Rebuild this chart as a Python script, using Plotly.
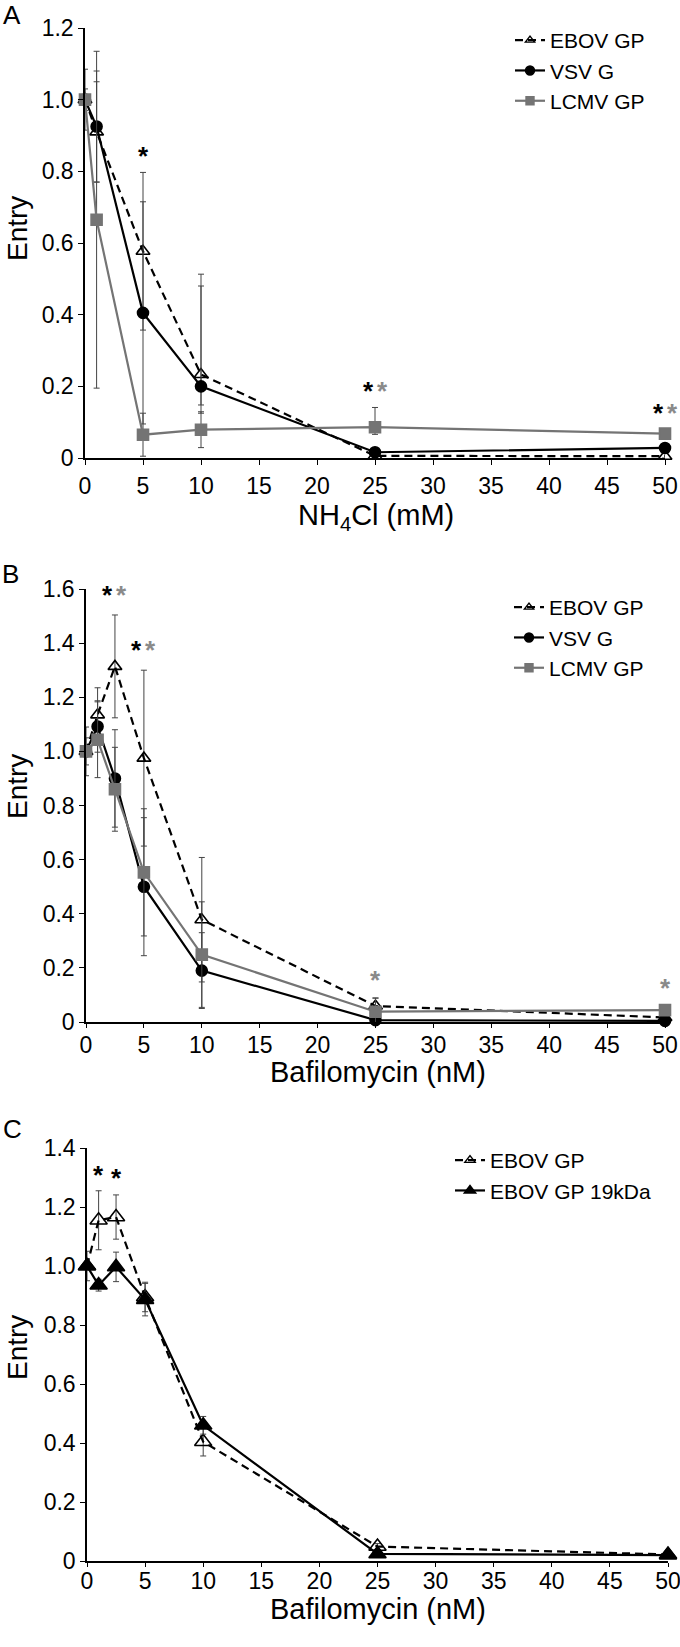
import plotly.graph_objects as go

# ---------------- data ----------------
# Panel A: NH4Cl (mM)
a_x = [0, 1, 5, 10, 25, 50]
a_ebov = [1.0, 0.91, 0.577, 0.233, 0.006, 0.005]
a_ebov_plus = [0.085, 0.14, 0.22, 0.28, 0.01, 0.008]
a_ebov_minus = [0.085, 0.14, 0.22, 0.085, 0.006, 0.005]
a_vsv = [1.0, 0.925, 0.405, 0.2, 0.016, 0.028]
a_vsv_plus = [0.03, 0.155, 0.31, 0.28, 0.012, 0.012]
a_vsv_minus = [0.03, 0.155, 0.31, 0.075, 0.012, 0.012]
a_lcmv = [1.0, 0.665, 0.065, 0.079, 0.086, 0.068]
a_lcmv_plus = [0.0, 0.47, 0.06, 0.05, 0.055, 0.01]
a_lcmv_minus = [0.0, 0.47, 0.06, 0.05, 0.02, 0.01]

# Panel B: Bafilomycin (nM)
b_x = [0, 1, 2.5, 5, 10, 25, 50]
b_ebov = [1.0, 1.135, 1.314, 0.975, 0.378, 0.059, 0.017]
b_ebov_err = [0.09, 0.1, 0.19, 0.325, 0.23, 0.03, 0.01]
b_vsv = [1.0, 1.092, 0.9, 0.5, 0.19, 0.007, 0.004]
b_vsv_err = [0.05, 0.095, 0.18, 0.255, 0.14, 0.005, 0.004]
b_lcmv = [1.0, 1.043, 0.86, 0.553, 0.249, 0.038, 0.044]
b_lcmv_err = [0.0, 0.14, 0.155, 0.235, 0.195, 0.05, 0.015]

# Panel C: Bafilomycin (nM)
c_x = [0, 1, 2.5, 5, 10, 25, 50]
c_ebov = [1.0, 1.155, 1.166, 0.895, 0.404, 0.049, 0.022]
c_ebov_err = [0.0, 0.1, 0.075, 0.05, 0.048, 0.01, 0.005]
c_19k = [1.0, 0.935, 0.997, 0.886, 0.46, 0.024, 0.02]
c_19k_err = [0.05, 0.02, 0.05, 0.055, 0.03, 0.01, 0.005]

# significance stars (x, y, colour index 0=black 1=grey, shift within pair)
a_star_x = [5, 25, 25, 50, 50]
a_star_y = [0.85, 0.195, 0.195, 0.134, 0.134]
a_star_c = [0, 0, 1, 0, 1]
a_star_s = [0, -1, 1, -1, 1]
b_star_x = [2.5, 2.5, 5, 5, 25, 50]
b_star_y = [1.59, 1.59, 1.386, 1.386, 0.166, 0.137]
b_star_c = [0, 1, 0, 1, 1, 1]
b_star_s = [-1, 1, -1, 1, 0, 0]
c_star_x = [1, 2.5]
c_star_y = [1.319, 1.307]
c_star_c = [0, 0]
c_star_s = [0, 0]

x_ticks = [0, 5, 10, 15, 20, 25, 30, 35, 40, 45, 50]
a_yticks = [0, 0.2, 0.4, 0.6, 0.8, 1.0, 1.2]
a_ytext = ["0", "0.2", "0.4", "0.6", "0.8", "1.0", "1.2"]
b_yticks = [0, 0.2, 0.4, 0.6, 0.8, 1.0, 1.2, 1.4, 1.6]
b_ytext = ["0", "0.2", "0.4", "0.6", "0.8", "1.0", "1.2", "1.4", "1.6"]
c_yticks = [0, 0.2, 0.4, 0.6, 0.8, 1.0, 1.2, 1.4]
c_ytext = ["0", "0.2", "0.4", "0.6", "0.8", "1.0", "1.2", "1.4"]

# ---------------- style ----------------
W, H = 680, 1647
MR = 12  # right margin so the last tick label and stars are not clipped
FONT = "Liberation Sans, Arial, sans-serif"
BLACK = "#000000"
GREY = "#747474"
STARGREY = "#8a8a8a"
ERRC = "#444444"
DASH = "8px,5px"


def px_x(p):
    return p / (W - MR)


def px_y(p):
    return 1 - p / H


fig = go.Figure()


def err(plus, minus=None):
    d = dict(type="data", array=plus, color=ERRC, thickness=1, width=3)
    if minus is not None:
        d.update(symmetric=False, arrayminus=minus)
    return d


def add(xs, ys, name, axis_id, legend, color, dash, symbol, size, e, lsize):
    line = dict(color=color, width=2.2, dash=dash)
    # data trace
    fig.add_trace(go.Scatter(
        x=xs, y=ys, name=name, mode="lines+markers", showlegend=False,
        xaxis="x" + axis_id, yaxis="y" + axis_id,
        line=line,
        marker=dict(symbol=symbol, size=size, color=color,
                    line=dict(color=color, width=1.6)),
        error_y=e, cliponaxis=False,
    ))
    # legend entry (smaller marker, as in the original legend)
    fig.add_trace(go.Scatter(
        x=[None], y=[None], name=name, mode="lines+markers", showlegend=True,
        xaxis="x" + axis_id, yaxis="y" + axis_id, legend=legend,
        line=line,
        marker=dict(symbol=symbol, size=lsize, color=color,
                    line=dict(color=color, width=1.4)),
    ))


# Panel A
add(a_x, a_ebov, "EBOV GP", "", "legend", BLACK, DASH, "triangle-up-open", 12,
    err(a_ebov_plus, a_ebov_minus), 8)
add(a_x, a_vsv, "VSV G", "", "legend", BLACK, "solid", "circle", 11,
    err(a_vsv_plus, a_vsv_minus), 9)
add(a_x, a_lcmv, "LCMV GP", "", "legend", GREY, "solid", "square", 11,
    err(a_lcmv_plus, a_lcmv_minus), 8)
# Panel B
add(b_x, b_ebov, "EBOV GP", "2", "legend2", BLACK, DASH, "triangle-up-open", 12, err(b_ebov_err), 8)
add(b_x, b_vsv, "VSV G", "2", "legend2", BLACK, "solid", "circle", 11, err(b_vsv_err), 9)
add(b_x, b_lcmv, "LCMV GP", "2", "legend2", GREY, "solid", "square", 11, err(b_lcmv_err), 8)
# Panel C
add(c_x, c_ebov, "EBOV GP", "3", "legend3", BLACK, DASH, "triangle-up-open", 15, err(c_ebov_err), 9)
add(c_x, c_19k, "EBOV GP 19kDa", "3", "legend3", BLACK, "solid", "triangle-up", 15, err(c_19k_err), 10)

annotations = []
for xs, ys, cs, ss, ax in [(a_star_x, a_star_y, a_star_c, a_star_s, ""),
                           (b_star_x, b_star_y, b_star_c, b_star_s, "2"),
                           (c_star_x, c_star_y, c_star_c, c_star_s, "3")]:
    for x, y, c, s in zip(xs, ys, cs, ss):
        annotations.append(dict(
            x=x, y=y, xref="x" + ax, yref="y" + ax, text="<b>*</b>", showarrow=False,
            xshift=7 * s, yshift=-3,
            font=dict(size=26, color=BLACK if c == 0 else STARGREY, family=FONT),
        ))

# panel letters
for letter, lx, ly in [("A", 12, 15), ("B", 10, 574), ("C", 12, 1129)]:
    annotations.append(dict(
        x=px_x(lx), y=px_y(ly), xref="paper", yref="paper", text=letter,
        showarrow=False, xanchor="center", yanchor="middle",
        font=dict(size=26, color=BLACK, family=FONT)))

# axis titles
for txt, tx, ty, ang, size in [
        ("Entry", 17, 229, -90, 28), ("Entry", 17, 787, -90, 28), ("Entry", 17, 1348, -90, 28),
        ("NH<sub>4</sub>Cl (mM)", 376, 517, 0, 29),
        ("Bafilomycin (nM)", 378, 1072, 0, 29),
        ("Bafilomycin (nM)", 378, 1609, 0, 29)]:
    annotations.append(dict(
        x=px_x(tx), y=px_y(ty), xref="paper", yref="paper", text=txt, textangle=ang,
        showarrow=False, xanchor="center", yanchor="middle",
        font=dict(size=size, color=BLACK, family=FONT)))


def xaxis(dom, anchor, standoff, ticklen):
    return dict(domain=dom, anchor=anchor, range=[0, 50], tickmode="array", tickvals=x_ticks,
                showline=True, linecolor=BLACK, linewidth=1.5, ticks="outside",
                ticklen=ticklen, tickcolor=BLACK, showgrid=False, zeroline=False,
                automargin=False, ticklabelstandoff=standoff, ticklabeloverflow="allow",
                tickfont=dict(size=23, color=BLACK, family=FONT))


def yaxis(dom, anchor, rng, vals, text):
    return dict(domain=dom, anchor=anchor, range=rng, tickmode="array", tickvals=vals,
                ticktext=text, showline=True, linecolor=BLACK, linewidth=1.5,
                ticks="outside", ticklen=5, tickcolor=BLACK, showgrid=False,
                zeroline=False, automargin=False,
                tickfont=dict(size=23, color=BLACK, family=FONT))


leg = dict(font=dict(size=21, color=BLACK, family=FONT), bgcolor="rgba(0,0,0,0)",
           xanchor="left", yanchor="top", tracegroupgap=0, itemwidth=30)

fig.update_layout(
    width=W, height=H, margin=dict(l=0, r=MR, t=0, b=0, autoexpand=False),
    paper_bgcolor="white", plot_bgcolor="white",
    font=dict(family=FONT, color=BLACK),
    xaxis=xaxis([px_x(85), px_x(665)], "y", 2, 5),
    yaxis=yaxis([px_y(458), px_y(28)], "x", [0, 1.2], a_yticks, a_ytext),
    xaxis2=xaxis([px_x(86), px_x(665)], "y2", -2, 4),
    yaxis2=yaxis([px_y(1022), px_y(589)], "x2", [0, 1.6], b_yticks, b_ytext),
    xaxis3=xaxis([px_x(87), px_x(668)], "y3", -5, 4),
    yaxis3=yaxis([px_y(1561), px_y(1148)], "x3", [0, 1.4], c_yticks, c_ytext),
    legend=dict(leg, x=px_x(510), y=px_y(20)),
    legend2=dict(leg, x=px_x(509), y=px_y(587)),
    legend3=dict(leg, x=px_x(450), y=px_y(1140)),
    annotations=annotations,
    showlegend=True,
)

# remove the default page margin so the 680x1647 figure fills the window exactly
fig.write_html("out.html", config={"displayModeBar": False},
               post_script="document.body.style.margin='0';")
